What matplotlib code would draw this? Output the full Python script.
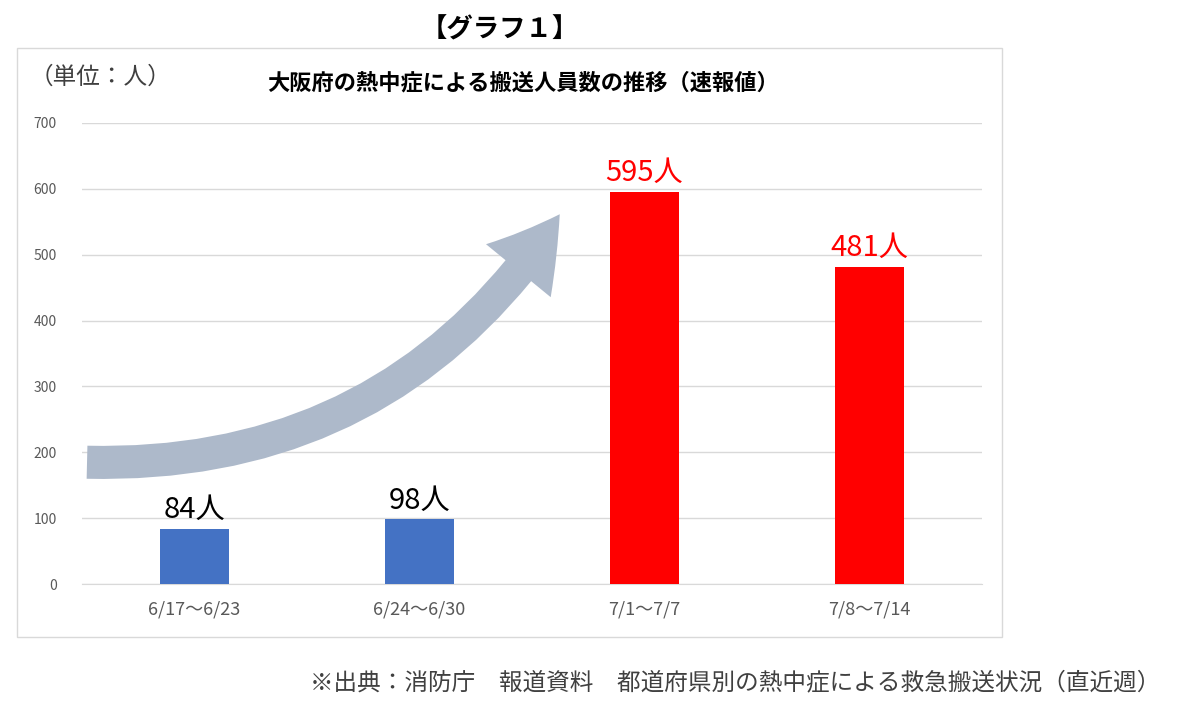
import matplotlib.pyplot as plt
from matplotlib.patches import FancyArrowPatch, Rectangle

plt.rcParams['font.family'] = ['Noto Sans CJK JP', 'DejaVu Sans']

weeks = ['6/17～6/23', '6/24～6/30', '7/1～7/7', '7/8～7/14']
counts = [84, 98, 595, 481]
colors = ['#4472C4', '#4472C4', '#FF0000', '#FF0000']
label_colors = ['black', 'black', '#FF0000', '#FF0000']

fig = plt.figure(figsize=(12, 7.12), dpi=100)
# outer chart frame
fig.patches.append(Rectangle((17/1200, 1-637/712), 985/1200, 589/712,
                             transform=fig.transFigure, fill=False,
                             edgecolor='#D9D9D9', lw=1))
ax = fig.add_axes([82/1200, 1-584/712, 900/1200, 461/712])

x = range(len(weeks))
ax.bar(x, counts, width=0.31, color=colors, zorder=3)
for i, v in enumerate(counts):
    ax.text(i, v + 6, f'{v}人', ha='center', va='bottom', fontsize=21,
            color=label_colors[i], zorder=4)

ax.set_xlim(-0.5, 3.5)
ax.set_ylim(0, 700)
ax.set_yticks(range(0, 701, 100))
ax.set_xticks(list(x))
ax.set_xticklabels(weeks, fontsize=13, color='#595959')
ax.tick_params(axis='y', labelsize=10, colors='#595959', length=0, pad=18)
ax.tick_params(axis='x', length=0, pad=12)
ax.grid(axis='y', color='#D9D9D9', lw=1, zorder=0)
for s in ['top', 'right', 'left']:
    ax.spines[s].set_visible(False)
ax.spines['bottom'].set_color('#D9D9D9')

arrow = FancyArrowPatch((-0.49, 185), (1.63, 565),
                        connectionstyle='arc3,rad=0.28',
                        arrowstyle='simple,head_width=4.3,head_length=3.6,tail_width=1.7',
                        mutation_scale=14, color='#ADB9CA', lw=0, zorder=2,
                        clip_on=False)
ax.add_patch(arrow)

fig.text(500/1200, 1-30/712, '【グラフ１】', ha='center', va='center',
         fontsize=19, fontweight='bold')
fig.text(30/1200, 1-77/712, '（単位：人）', ha='left', va='center', fontsize=17,
         color='#404040')
fig.text(523/1200, 1-83/712, '大阪府の熱中症による搬送人員数の推移（速報値）',
         ha='center', va='center', fontsize=16, fontweight='bold')
fig.text(1160/1200, 1-683/712,
         '※出典：消防庁　報道資料　都道府県別の熱中症による救急搬送状況（直近週）',
         ha='right', va='center', fontsize=17, color='#404040')

fig.savefig('out.png', dpi=100)
